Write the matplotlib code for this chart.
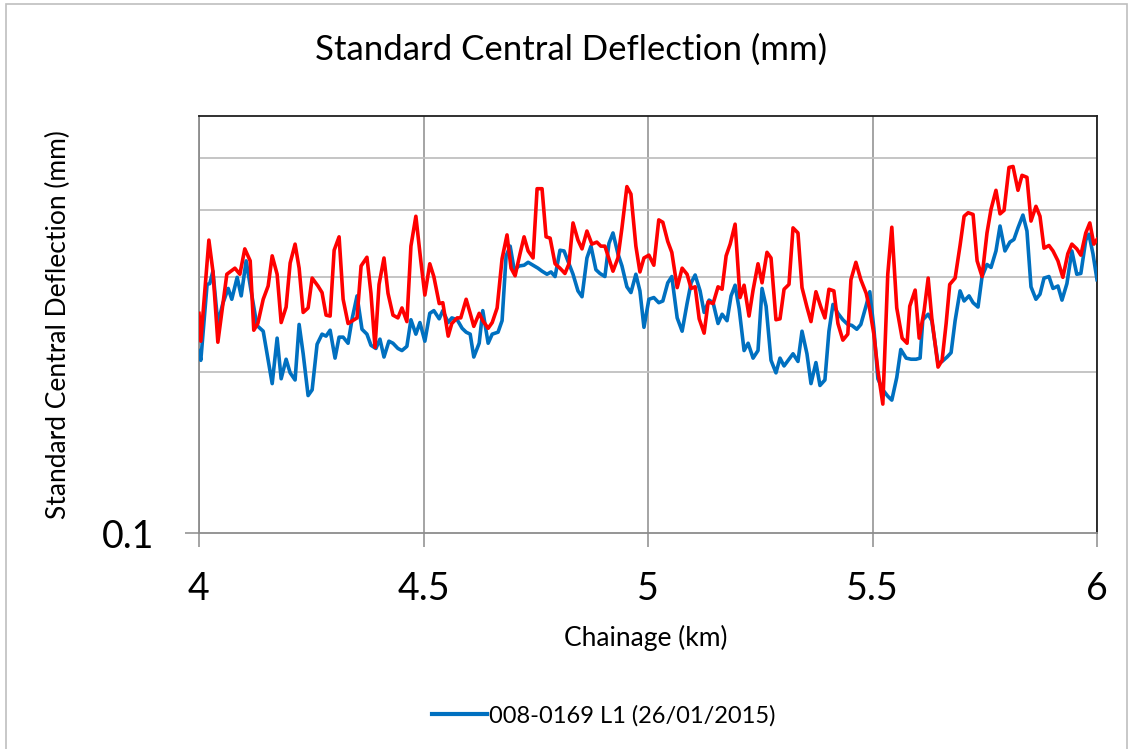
import numpy as np
import matplotlib
matplotlib.use("Agg")
import matplotlib.pyplot as plt
from matplotlib.lines import Line2D
from matplotlib.patches import Rectangle
from matplotlib.ticker import FixedLocator, NullFormatter, FixedFormatter

# === Data ===
red_km = [4.000, 4.004, 4.022, 4.031, 4.042, 4.062, 4.080, 4.091, 4.102, 4.114,
          4.122, 4.131, 4.143, 4.154, 4.163, 4.174, 4.183, 4.194, 4.203, 4.214,
          4.223, 4.232, 4.243, 4.252, 4.265, 4.274, 4.283, 4.292, 4.301, 4.312,
          4.321, 4.332, 4.352, 4.361, 4.374, 4.383, 4.392, 4.401, 4.412, 4.421,
          4.432, 4.443, 4.452, 4.463, 4.472, 4.483, 4.494, 4.503, 4.514, 4.523,
          4.535, 4.543, 4.555, 4.563, 4.575, 4.583, 4.595, 4.604, 4.612, 4.624,
          4.632, 4.644, 4.653, 4.664, 4.675, 4.686, 4.695, 4.704, 4.715, 4.724,
          4.733, 4.744, 4.753, 4.764, 4.773, 4.782, 4.793, 4.804, 4.815, 4.824,
          4.833, 4.844, 4.853, 4.864, 4.875, 4.886, 4.895, 4.904, 4.913, 4.922,
          4.933, 4.942, 4.953, 4.962, 4.973, 4.982, 4.991, 5.002, 5.013, 5.024,
          5.033, 5.044, 5.053, 5.065, 5.076, 5.087, 5.096, 5.105, 5.114, 5.125,
          5.134, 5.145, 5.156, 5.165, 5.174, 5.183, 5.194, 5.205, 5.214, 5.225,
          5.234, 5.245, 5.254, 5.265, 5.274, 5.285, 5.294, 5.303, 5.314, 5.323,
          5.334, 5.343, 5.354, 5.363, 5.374, 5.385, 5.394, 5.403, 5.414, 5.423,
          5.434, 5.445, 5.452, 5.463, 5.474, 5.486, 5.494, 5.503, 5.512, 5.523,
          5.534, 5.543, 5.554, 5.566, 5.577, 5.583, 5.595, 5.604, 5.615, 5.624,
          5.632, 5.646, 5.655, 5.664, 5.672, 5.684, 5.695, 5.704, 5.713, 5.724,
          5.733, 5.744, 5.755, 5.764, 5.775, 5.784, 5.793, 5.804, 5.813, 5.824,
          5.833, 5.844, 5.853, 5.864, 5.873, 5.882, 5.893, 5.902, 5.913, 5.924,
          5.935, 5.944, 5.955, 5.964, 5.975, 5.984, 5.993, 6.000]
red_defl = [0.257, 0.228, 0.352, 0.308, 0.227, 0.304, 0.312, 0.304, 0.339, 0.322,
            0.239, 0.246, 0.273, 0.289, 0.329, 0.304, 0.247, 0.264, 0.319, 0.346,
            0.312, 0.258, 0.263, 0.299, 0.289, 0.281, 0.255, 0.254, 0.337, 0.357,
            0.273, 0.246, 0.252, 0.315, 0.327, 0.280, 0.222, 0.291, 0.326, 0.280,
            0.255, 0.252, 0.263, 0.248, 0.343, 0.390, 0.322, 0.278, 0.318, 0.301,
            0.268, 0.269, 0.233, 0.246, 0.252, 0.252, 0.273, 0.257, 0.243, 0.257,
            0.249, 0.241, 0.247, 0.263, 0.325, 0.360, 0.312, 0.302, 0.332, 0.357,
            0.336, 0.326, 0.439, 0.439, 0.357, 0.355, 0.318, 0.312, 0.305, 0.318,
            0.379, 0.352, 0.339, 0.366, 0.346, 0.349, 0.343, 0.343, 0.325, 0.308,
            0.326, 0.371, 0.443, 0.429, 0.343, 0.307, 0.326, 0.330, 0.316, 0.384,
            0.380, 0.350, 0.334, 0.287, 0.312, 0.304, 0.286, 0.288, 0.251, 0.236,
            0.270, 0.268, 0.288, 0.285, 0.329, 0.346, 0.377, 0.275, 0.290, 0.254,
            0.284, 0.318, 0.293, 0.334, 0.326, 0.250, 0.251, 0.285, 0.291, 0.371,
            0.363, 0.287, 0.264, 0.248, 0.282, 0.264, 0.252, 0.285, 0.283, 0.246,
            0.229, 0.235, 0.297, 0.320, 0.297, 0.280, 0.261, 0.235, 0.201, 0.174,
            0.304, 0.372, 0.263, 0.231, 0.226, 0.265, 0.284, 0.231, 0.260, 0.299,
            0.252, 0.204, 0.210, 0.246, 0.291, 0.299, 0.344, 0.390, 0.396, 0.393,
            0.322, 0.301, 0.363, 0.402, 0.436, 0.394, 0.400, 0.481, 0.483, 0.436,
            0.465, 0.461, 0.382, 0.407, 0.390, 0.340, 0.344, 0.336, 0.322, 0.300,
            0.332, 0.346, 0.339, 0.330, 0.363, 0.379, 0.346, 0.353]

blue_km = [4.000, 4.004, 4.018, 4.024, 4.031, 4.042, 4.053, 4.065, 4.073, 4.085,
           4.094, 4.105, 4.116, 4.129, 4.143, 4.163, 4.174, 4.183, 4.194, 4.203,
           4.214, 4.223, 4.232, 4.243, 4.252, 4.263, 4.274, 4.283, 4.292, 4.303,
           4.312, 4.321, 4.332, 4.341, 4.352, 4.363, 4.374, 4.383, 4.394, 4.403,
           4.412, 4.423, 4.432, 4.443, 4.452, 4.463, 4.472, 4.483, 4.492, 4.503,
           4.514, 4.523, 4.535, 4.543, 4.555, 4.563, 4.575, 4.586, 4.595, 4.604,
           4.612, 4.624, 4.632, 4.644, 4.653, 4.666, 4.675, 4.684, 4.693, 4.702,
           4.713, 4.724, 4.733, 4.744, 4.755, 4.764, 4.775, 4.784, 4.793, 4.804,
           4.813, 4.824, 4.833, 4.844, 4.853, 4.864, 4.873, 4.884, 4.893, 4.904,
           4.913, 4.922, 4.933, 4.942, 4.953, 4.962, 4.973, 4.982, 4.991, 5.002,
           5.013, 5.024, 5.033, 5.044, 5.053, 5.065, 5.076, 5.087, 5.096, 5.105,
           5.116, 5.125, 5.136, 5.145, 5.156, 5.165, 5.176, 5.185, 5.194, 5.203,
           5.214, 5.223, 5.234, 5.245, 5.254, 5.263, 5.274, 5.285, 5.294, 5.303,
           5.314, 5.323, 5.334, 5.343, 5.354, 5.363, 5.374, 5.383, 5.394, 5.403,
           5.412, 5.423, 5.434, 5.445, 5.454, 5.465, 5.474, 5.486, 5.494, 5.503,
           5.512, 5.523, 5.534, 5.543, 5.554, 5.563, 5.575, 5.586, 5.597, 5.606,
           5.612, 5.624, 5.632, 5.646, 5.655, 5.666, 5.675, 5.684, 5.695, 5.704,
           5.715, 5.724, 5.735, 5.744, 5.755, 5.764, 5.775, 5.784, 5.795, 5.806,
           5.815, 5.824, 5.835, 5.844, 5.853, 5.864, 5.873, 5.882, 5.893, 5.902,
           5.913, 5.922, 5.933, 5.944, 5.955, 5.964, 5.975, 5.982, 5.991, 6.000]
blue_defl = [0.219, 0.210, 0.291, 0.292, 0.308, 0.246, 0.268, 0.286, 0.273, 0.300,
             0.277, 0.322, 0.283, 0.244, 0.238, 0.190, 0.231, 0.194, 0.211, 0.199,
             0.193, 0.245, 0.216, 0.1805, 0.185, 0.225, 0.235, 0.233, 0.239, 0.212,
             0.232, 0.232, 0.226, 0.251, 0.277, 0.240, 0.235, 0.224, 0.221, 0.230,
             0.213, 0.228, 0.226, 0.221, 0.219, 0.223, 0.250, 0.235, 0.247, 0.228,
             0.257, 0.260, 0.251, 0.260, 0.247, 0.252, 0.250, 0.241, 0.237, 0.235,
             0.213, 0.226, 0.260, 0.226, 0.235, 0.237, 0.249, 0.329, 0.343, 0.310,
             0.315, 0.316, 0.320, 0.316, 0.312, 0.308, 0.304, 0.307, 0.301, 0.337,
             0.336, 0.318, 0.304, 0.283, 0.276, 0.326, 0.343, 0.310, 0.305, 0.301,
             0.347, 0.363, 0.332, 0.315, 0.288, 0.281, 0.304, 0.283, 0.242, 0.273,
             0.275, 0.269, 0.271, 0.293, 0.301, 0.252, 0.238, 0.268, 0.293, 0.303,
             0.283, 0.258, 0.272, 0.269, 0.246, 0.256, 0.249, 0.277, 0.290, 0.262,
             0.219, 0.226, 0.212, 0.219, 0.286, 0.265, 0.210, 0.199, 0.212, 0.205,
             0.211, 0.216, 0.209, 0.238, 0.216, 0.190, 0.208, 0.1885, 0.193, 0.238,
             0.267, 0.257, 0.250, 0.245, 0.244, 0.240, 0.245, 0.266, 0.282, 0.241,
             0.194, 0.185, 0.180, 0.177, 0.195, 0.220, 0.212, 0.211, 0.211, 0.212,
             0.250, 0.256, 0.249, 0.207, 0.209, 0.213, 0.217, 0.249, 0.283, 0.271,
             0.277, 0.269, 0.264, 0.301, 0.317, 0.313, 0.336, 0.374, 0.336, 0.349,
             0.353, 0.371, 0.392, 0.366, 0.288, 0.273, 0.279, 0.299, 0.301, 0.286,
             0.289, 0.272, 0.292, 0.336, 0.304, 0.305, 0.352, 0.361, 0.332, 0.297]

x_ticks = [4, 4.5, 5, 5.5, 6]
x_tick_labels = ["4", "4.5", "5", "5.5", "6"]
y_grid = [0.2, 0.3, 0.4, 0.5]
blue_label = "008-0169 L1 (26/01/2015)"

plt.rcParams['font.family'] = ['Lato', 'DejaVu Sans']

fig = plt.figure(figsize=(11.32, 7.49), dpi=100)
ax = fig.add_axes([199/1132, 1-533/749, (1097-199)/1132, (533-116)/749])

ax.plot(blue_km, blue_defl, color="#0070C0", lw=2.6, zorder=3)
ax.plot(red_km, red_defl, color="#FF0000", lw=2.6, zorder=4)

ax.set_yscale("log")
ax.set_xlim(4, 6)
ax.set_ylim(0.1, 0.6)

ax.xaxis.set_major_locator(FixedLocator(x_ticks))
ax.xaxis.set_major_formatter(FixedFormatter(x_tick_labels))
ax.yaxis.set_major_locator(FixedLocator([0.1]))
ax.yaxis.set_major_formatter(FixedFormatter(["0.1"]))
ax.yaxis.set_minor_locator(FixedLocator(y_grid))
ax.yaxis.set_minor_formatter(NullFormatter())

ax.grid(True, axis="x", which="major", color="#8c8c8c", lw=1.1)
ax.grid(True, axis="y", which="minor", color="#c0c0c0", lw=1.3)
ax.tick_params(axis="both", which="major", length=10, width=1.1, color="#8c8c8c",
               labelsize=27, direction="out")
ax.tick_params(axis="x", which="major", pad=17)
ax.tick_params(axis="y", which="major", pad=22)
ax.tick_params(axis="y", which="minor", length=0)

ax.spines["left"].set_color("#8c8c8c")
ax.spines["bottom"].set_color("#8c8c8c")
ax.spines["top"].set_color("#202020")
ax.spines["right"].set_color("#202020")
for s in ax.spines.values():
    s.set_linewidth(1.3)

fig.text(571/1132, 1-50/749, "Standard Central Deflection (mm)", ha="center",
         va="center", fontsize=25)
fig.text(58/1132, 1-325/749, "Standard Central Deflection (mm)", ha="center",
         va="center", rotation=90, fontsize=19)
fig.text(646/1132, 1-638/749, "Chainage (km)", ha="center", va="center", fontsize=19)

handle = Line2D([], [], color="#0070C0", lw=3)
fig.legend([handle], [blue_label], loc="center", bbox_to_anchor=(604/1132, 1-716/749),
           frameon=False, fontsize=17, handlelength=2.3, handletextpad=0.1)

# figure border
fig.patches.append(Rectangle((6/1132, -0.01), 1121/1132, 1.005, transform=fig.transFigure,
                             fill=False, edgecolor="#bfbfbf", lw=1.2))

fig.savefig("out.png", dpi=100)
